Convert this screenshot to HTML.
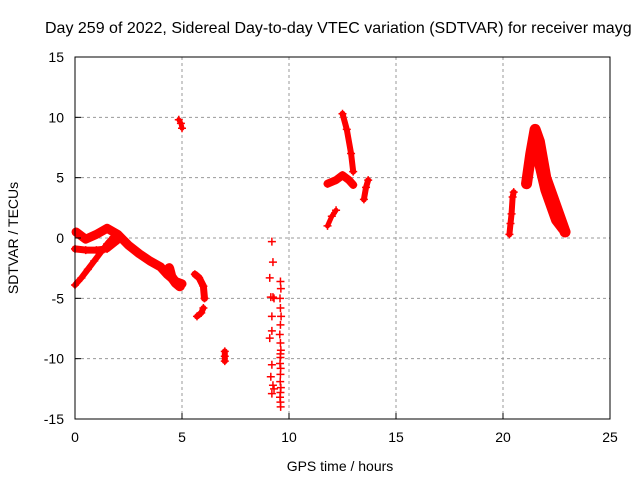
<!DOCTYPE html>
<html><head><meta charset="utf-8"><style>
body{margin:0;background:#fff;overflow:hidden;}
svg{display:block;font-family:"Liberation Sans",sans-serif;}
</style></head><body>
<svg id="chart" width="640" height="480" viewBox="0 0 640 480">
<text x="45" y="33" font-size="16" fill="#000">Day 259 of 2022, Sidereal Day-to-day VTEC variation (SDTVAR) for receiver mayg</text>
<g id="grid"></g>
<g id="marks"></g>
<rect x="75" y="57" width="535" height="362" fill="none" stroke="#000" stroke-width="1"/>
<g id="ticks"></g>
<text x="340" y="471" font-size="14" text-anchor="middle">GPS time / hours</text>
<text transform="translate(18,238) rotate(-90)" font-size="14" text-anchor="middle">SDTVAR / TECUs</text>
</svg>
<script>
const xTicks=[0,5,10,15,20,25];
const yTicks=[-15,-10,-5,0,5,10,15];
// tracks: hours and values
const trackA_h=[0,0.3,0.6,0.9,1.2,1.5,1.8];
const trackA_v=[-3.9,-3.3,-2.6,-1.9,-1.2,-0.5,0.1];
const trackB_h=[0.05,0.5,1,1.5,2,2.5,3,3.5,4,4.3,4.7,5];
const trackB_v=[0.5,-0.1,0.3,0.8,0.3,-0.6,-1.3,-1.9,-2.4,-3,-3.6,-3.8];
const trackC_h=[0,0.5,1,1.5,2];
const trackC_v=[-0.9,-1,-1,-0.9,-0.2];
const trackD_h=[4.4,4.5,4.7,4.9];
const trackD_v=[-2.5,-3.2,-3.7,-4];
const trackE_h=[4.85,4.95,5];
const trackE_v=[9.8,9.5,9.1];
const trackF_h=[5.6,5.8,6,6.05];
const trackF_v=[-3,-3.3,-4,-5];
const trackG_h=[5.7,5.9,6];
const trackG_v=[-6.5,-6.2,-5.8];
const trackH_h=[7,7,7];
const trackH_v=[-9.4,-9.8,-10.2];
const trackI_h=[11.8,12,12.2];
const trackI_v=[1,1.8,2.3];
const trackJ_h=[11.8,12.2,12.5,12.8,13];
const trackJ_v=[4.5,4.8,5.2,4.8,4.4];
const trackK_h=[12.5,12.7,12.9,13];
const trackK_v=[10.3,9,7,5.5];
const trackL_h=[13.5,13.6,13.7];
const trackL_v=[3.2,4.2,4.8];
const trackM_h=[20.3,20.35,20.4,20.45,20.5];
const trackM_v=[0.3,1.2,2,3.4,3.8];
const trackN_h=[21.1,21.3,21.5,21.7,22,22.3,22.6,22.9];
const trackN_v=[4.5,7,9,8,5,3.5,2,0.5];
const trackO_h=[21.6,22,22.5,22.8];
const trackO_v=[7,4,1.5,0.8];
const scatter_h=[9.1,9.15,9.2,9.25,9.1,9.2,9.15,9.25,9.2,9.3,9.2,9.25,9.3,9.2];
const scatter_v=[-3.3,-4.9,-6.5,-4.9,-8.3,-7.7,-11.5,-12.2,-12.9,-12.5,-0.3,-2,-5,-10.5];
const vert_h=[9.6,9.62,9.58,9.6,9.63,9.6,9.57,9.6,9.62,9.6,9.58,9.61,9.6,9.59,9.62,9.6,9.58,9.6,9.61,9.6];
const vert_v=[-3.6,-4.2,-5,-5.8,-6.5,-7.2,-8,-8.7,-9.3,-9.9,-10.4,-10.8,-11.3,-11.9,-12.4,-12.8,-13.2,-13.6,-14,-9.6];

const X=h=>75+h*535/25;
const Y=v=>238-v*362/30;
const NS="http://www.w3.org/2000/svg";
const grid=document.getElementById('grid'),ticks=document.getElementById('ticks'),marks=document.getElementById('marks');
function mk(t,a,p){const e=document.createElementNS(NS,t);for(const k in a)e.setAttribute(k,a[k]);p.appendChild(e);return e;}
xTicks.forEach(t=>{
 if(t>0&&t<25){const g=mk('line',{x1:X(t),x2:X(t),y1:57,y2:419,stroke:'#999','stroke-dasharray':'3,3'},grid);
 
 }
 const l=mk('line',{x1:X(t),x2:X(t),y1:419,y2:413,stroke:'#000'},ticks);
 
 
 const tx=mk('text',{x:X(t),y:442,'font-size':14,'text-anchor':'middle'},ticks);tx.textContent=t;
 
 
});
yTicks.forEach(t=>{
 if(t>-15&&t<15){const g=mk('line',{x1:75,x2:610,y1:Y(t),y2:Y(t),stroke:'#999','stroke-dasharray':'3,3'},grid);
 
 }
 const l=mk('line',{x1:75,x2:81,y1:Y(t),y2:Y(t),stroke:'#000'},ticks);
 
 
 const tx=mk('text',{x:64,y:Y(t)+5,'font-size':14,'text-anchor':'end'},ticks);tx.textContent=t;
 
 
});
const tracks=[[trackA_h,trackA_v,6],[trackB_h,trackB_v,9],[trackC_h,trackC_v,7],[trackD_h,trackD_v,10],[trackE_h,trackE_v,5],[trackF_h,trackF_v,7],[trackG_h,trackG_v,6],[trackH_h,trackH_v,6],[trackI_h,trackI_v,5],[trackJ_h,trackJ_v,8],[trackK_h,trackK_v,6],[trackL_h,trackL_v,6],[trackM_h,trackM_v,6],[trackN_h,trackN_v,11],[trackO_h,trackO_v,11]];
tracks.forEach(([hs,vs,w])=>{
 const pts=hs.map((h,i)=>X(h)+','+Y(vs[i])).join(' ');
 const p=mk('polyline',{points:pts,fill:'none',stroke:'#f00','stroke-width':w,'stroke-linejoin':'round','stroke-linecap':'round'},marks);
 
 
});
function plus(h,v){
 const x=X(h),y=Y(v);
 const p=mk('path',{d:`M${x-4},${y}H${x+4}M${x},${y-4}V${y+4}`,stroke:'#f00','stroke-width':1.5,fill:'none'},marks);
 
 
}
scatter_h.forEach((h,i)=>plus(h,scatter_v[i]));
vert_h.forEach((h,i)=>plus(h,vert_v[i]));
tracks.forEach(([hs,vs])=>hs.forEach((h,i)=>plus(h,vs[i])));
</script>
</body></html>
